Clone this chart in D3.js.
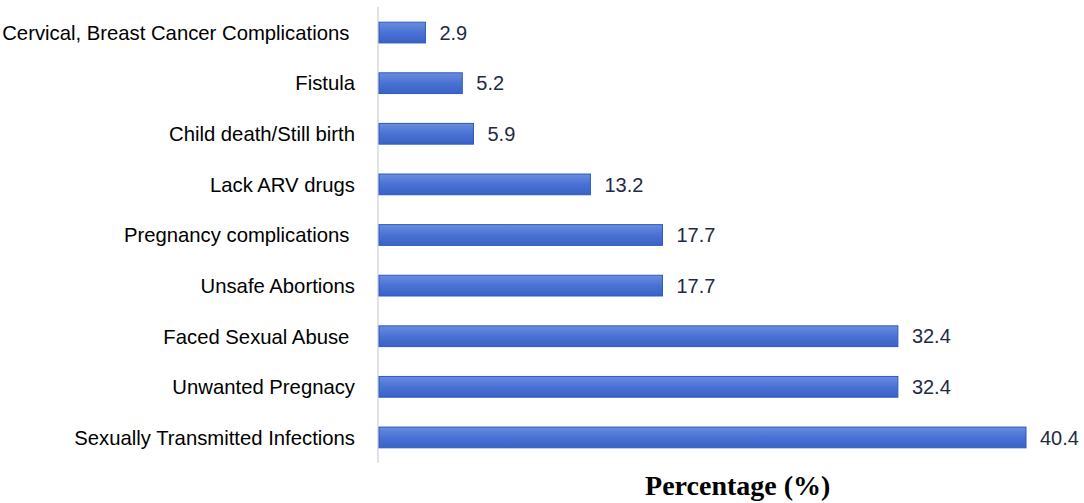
<!DOCTYPE html>
<html>
<head>
<meta charset="utf-8">
<script src="https://cdn.jsdelivr.net/npm/d3@7"></script>
<style>
  body { margin: 0; background: #fff; }
  .cat-label { font-family: "Liberation Sans", Arial, sans-serif; font-size: 20.3px; fill: #000; white-space: pre; }
  .val-label { font-family: "Liberation Sans", Arial, sans-serif; font-size: 20px; fill: #1f2a44; }
  .axis-title { font-family: "Liberation Serif", "Times New Roman", serif; font-size: 28px; font-weight: bold; fill: #000; }
</style>
</head>
<body>
<svg id="chart"></svg>
<script>
// categories, top to bottom
const categories = [
    'Cervical, Breast Cancer Complications ',
    'Fistula',
    'Child death/Still birth',
    'Lack ARV drugs',
    'Pregnancy complications ',
    'Unsafe Abortions',
    'Faced Sexual Abuse ',
    'Unwanted Pregnacy',
    'Sexually Transmitted Infections'
];
const percentages = [2.9, 5.2, 5.9, 13.2, 17.7, 17.7, 32.4, 32.4, 40.4];
const axisTitle = 'Percentage (%)';

const width = 1084, height = 503;
const margin = { top: 7, right: 58, bottom: 40, left: 379 };

const svg = d3.select('#chart')
    .attr('width', width)
    .attr('height', height);

const innerW = width - margin.left - margin.right;
const innerH = height - margin.top - margin.bottom;

const chart = svg.append('g')
    .attr('transform', `translate(${margin.left},${margin.top})`);

const xScale = d3.scaleLinear().domain([0, 40.4]).range([0, 647]);
const yScale = d3.scaleBand().domain(categories).range([0, innerH]).paddingInner(0.59).paddingOuter(0.3);

// bar gradient
const defs = svg.append('defs');
const grad = defs.append('linearGradient')
    .attr('id', 'barGrad')
    .attr('x1', 0).attr('y1', 0).attr('x2', 0).attr('y2', 1);
grad.append('stop').attr('offset', '0%').attr('stop-color', '#6a8de0');
grad.append('stop').attr('offset', '50%').attr('stop-color', '#4a72d4');
grad.append('stop').attr('offset', '100%').attr('stop-color', '#3a62c6');

// vertical axis line
chart.append('line')
    .attr('x1', -1).attr('x2', -1)
    .attr('y1', 0).attr('y2', innerH)
    .attr('stroke', '#d4d8e0')
    .attr('stroke-width', 1.5);

chart.selectAll('.bar')
    .data(categories)
    .join('rect')
    .attr('class', 'bar')
    .attr('x', 0)
    .attr('y', d => yScale(d))
    .attr('width', (d, i) => xScale(percentages[i]))
    .attr('height', yScale.bandwidth())
    .attr('fill', 'url(#barGrad)')
    .attr('stroke', '#2f58c0')
    .attr('stroke-width', 1);

chart.selectAll('.val-label')
    .data(categories)
    .join('text')
    .attr('class', 'val-label')
    .attr('x', (d, i) => xScale(percentages[i]) + 14)
    .attr('y', d => yScale(d) + yScale.bandwidth() / 2)
    .attr('dy', '0.36em')
    .text((d, i) => percentages[i]);

chart.selectAll('.cat-label')
    .data(categories)
    .join('text')
    .attr('class', 'cat-label')
    .attr('x', -24)
    .attr('y', d => yScale(d) + yScale.bandwidth() / 2)
    .attr('dy', '0.36em')
    .attr('text-anchor', 'end')
    .text(d => d);

svg.append('text')
    .attr('class', 'axis-title')
    .attr('x', margin.left + xScale(22.4))
    .attr('y', 495)
    .attr('text-anchor', 'middle')
    .text(axisTitle);
</script>
</body>
</html>
